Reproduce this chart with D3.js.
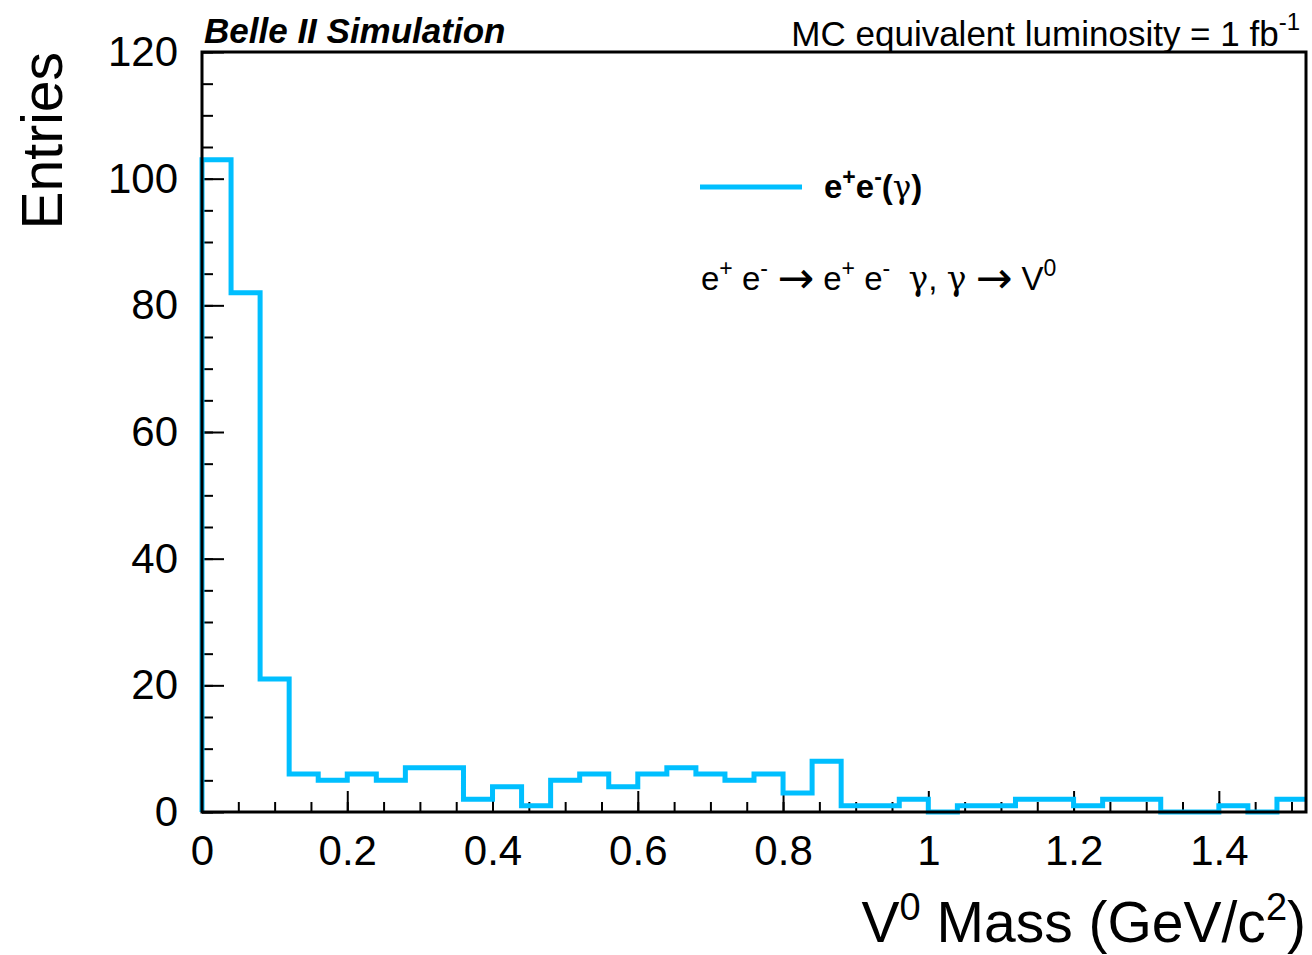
<!DOCTYPE html>
<html>
<head>
<meta charset="utf-8">
<script src="https://cdn.jsdelivr.net/npm/d3@7"></script>
<style>
  body { margin: 0; background: #fff; }
  svg text { font-family: "Liberation Sans", Arial, Helvetica, sans-serif; white-space: pre; }
</style>
</head>
<body>
<svg id="chart" width="1312" height="955"></svg>
<script>
// histogram: 38 bins of 0.04 GeV/c^2 from 0 to 1.52
var binLow = 0, binWidth = 0.04;
var entries = [103, 82, 21, 6, 5, 6, 5, 7, 7, 2,
               4, 1, 5, 6, 4, 6, 7, 6, 5, 6,
               3, 8, 1, 1, 2, 0, 1, 1, 2, 2,
               1, 2, 2, 0, 0, 1, 0, 2];
var xTicks = [0, 0.2, 0.4, 0.6, 0.8, 1, 1.2, 1.4];
var yTicks = [0, 20, 40, 60, 80, 100, 120];

var histColor = "#00bfff";
var svg = d3.select("#chart");

var padL = 202, padR = 1306, padT = 52, padB = 812;
var xMax = binLow + entries.length * binWidth;

var x = d3.scaleLinear().domain([0, xMax]).range([padL, padR]);
var y = d3.scaleLinear().domain([0, 120]).range([padB, padT]);

// minor ticks
var xMinor = d3.range(0, xMax + 1e-9, 0.05);
var yMinor = d3.range(0, 120.001, 5);

svg.append("g")
    .attr("transform", "translate(0," + padB + ")")
    .call(d3.axisBottom(x).tickValues(xMinor).tickFormat("").tickSize(-10))
    .call(g => g.select(".domain").remove())
    .selectAll("line").attr("stroke-width", 2);

svg.append("g")
    .attr("transform", "translate(0," + padB + ")")
    .call(d3.axisBottom(x).tickValues(xTicks).tickFormat(d3.format("")).tickSize(-21).tickPadding(23))
    .call(g => g.select(".domain").remove())
    .call(g => g.selectAll("line").attr("stroke-width", 2))
    .selectAll("text")
    .attr("font-size", 42)
    .attr("fill", "#000")
    .style("font-family", "'Liberation Sans', Arial, sans-serif");

svg.append("g")
    .attr("transform", "translate(" + padL + ",0)")
    .call(d3.axisLeft(y).tickValues(yMinor).tickFormat("").tickSize(-11))
    .call(g => g.select(".domain").remove())
    .selectAll("line").attr("stroke-width", 2);

svg.append("g")
    .attr("transform", "translate(" + padL + ",0)")
    .call(d3.axisLeft(y).tickValues(yTicks).tickSize(-22).tickPadding(24))
    .call(g => g.select(".domain").remove())
    .call(g => g.selectAll("line").attr("stroke-width", 2))
    .selectAll("text")
    .attr("font-size", 42)
    .attr("fill", "#000")
    .style("font-family", "'Liberation Sans', Arial, sans-serif");

// histogram outline
var pts = [{x: binLow, y: 0}];
entries.forEach((v, i) => pts.push({x: binLow + i * binWidth, y: v}));
pts.push({x: xMax, y: entries[entries.length - 1]});

var line = d3.line()
    .x(d => x(d.x))
    .y(d => y(d.y))
    .curve(d3.curveStepAfter);

svg.append("path")
    .datum(pts)
    .attr("d", line)
    .attr("fill", "none")
    .attr("stroke", histColor)
    .attr("stroke-width", 5);

// frame
svg.append("rect")
    .attr("x", padL).attr("y", padT)
    .attr("width", padR - padL).attr("height", padB - padT)
    .attr("fill", "none")
    .attr("stroke", "#000")
    .attr("stroke-width", 3);

// titles
svg.append("text")
    .attr("x", 204).attr("y", 43)
    .attr("font-size", 35)
    .attr("font-weight", "bold")
    .attr("font-style", "italic")
    .text("Belle II Simulation");

var lumi = svg.append("text")
    .attr("x", 1300).attr("y", 46)
    .attr("text-anchor", "end")
    .attr("font-size", 35);
lumi.append("tspan").text("MC equivalent luminosity = 1 fb");
lumi.append("tspan").attr("font-size", 24).attr("dy", -16).text("-1");

svg.append("text")
    .attr("transform", "translate(62,52) rotate(-90)")
    .attr("text-anchor", "end")
    .attr("font-size", 57)
    .text("Entries");

var xlab = svg.append("text")
    .attr("x", 1306).attr("y", 942)
    .attr("text-anchor", "end")
    .attr("font-size", 57);
xlab.append("tspan").text("V");
xlab.append("tspan").attr("font-size", 38).attr("dy", -22).text("0");
xlab.append("tspan").attr("dy", 22).text(" Mass (GeV/c");
xlab.append("tspan").attr("font-size", 38).attr("dy", -22).text("2");
xlab.append("tspan").attr("dy", 22).text(")");

// legend
svg.append("line")
    .attr("x1", 700).attr("x2", 802)
    .attr("y1", 187).attr("y2", 187)
    .attr("stroke", histColor)
    .attr("stroke-width", 5);

var leg = svg.append("text")
    .attr("x", 824).attr("y", 198)
    .attr("font-size", 33)
    .attr("font-weight", "bold");
leg.append("tspan").text("e");
leg.append("tspan").attr("font-size", 23).attr("dy", -13).text("+");
leg.append("tspan").attr("dy", 13).text("e");
leg.append("tspan").attr("font-size", 23).attr("dy", -13).text("-");
leg.append("tspan").attr("dy", 13).text("(");
leg.append("tspan").attr("font-weight", "normal").style("font-family", "'DejaVu Serif', serif").attr("font-size", 31).text("γ");
leg.append("tspan").text(")");

var arrowFont = "'DejaVu Sans', sans-serif";
var gammaFont = "'DejaVu Serif', serif";
var proc = svg.append("text")
    .attr("x", 701).attr("y", 290)
    .attr("font-size", 33);
function sup(t) {
    proc.append("tspan").attr("font-size", 23).attr("dy", -14).text(t);
    return proc.append("tspan").attr("dy", 14);
}
function arrow() {
    proc.append("tspan").style("font-family", arrowFont).attr("font-size", 44).attr("dy", 3).text("→");
    return proc.append("tspan").attr("dy", -3);
}
proc.append("tspan").text("e");
sup("+").text(" e");
sup("-").text(" ");
arrow().text(" e");
sup("+").text(" e");
sup("-").text("  ");
proc.append("tspan").style("font-family", gammaFont).text("γ");
proc.append("tspan").text(", ");
proc.append("tspan").style("font-family", gammaFont).text("γ");
proc.append("tspan").text(" ");
arrow().text(" V");
sup("0");
</script>
</body>
</html>
